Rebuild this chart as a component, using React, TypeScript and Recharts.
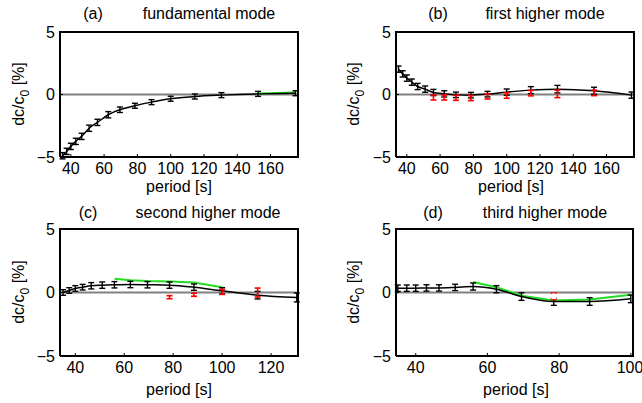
import React from "react";
import { ComposedChart, Line, XAxis, YAxis, ErrorBar, ReferenceLine, CartesianGrid } from "recharts";

// periods [s]
const periodsA = [35, 37.5, 40, 43, 46.5, 51, 56, 62.5, 69.5, 78.5, 88.5, 100, 114.5, 130.5, 152.5, 175];
const valuesA = [-4.9, -4.55, -4.15, -3.75, -3.35, -2.7, -2.23, -1.62, -1.22, -0.9, -0.61, -0.34, -0.16, -0.05, 0.05, 0.1];
const errA = [0.25, 0.25, 0.25, 0.25, 0.25, 0.25, 0.25, 0.25, 0.22, 0.2, 0.2, 0.2, 0.2, 0.2, 0.2, 0.2];
const greenPeriodsA = [152.5, 175];
const greenA = [0.08, 0.17];

const periodsB = periodsA;
const valuesB = [2.03, 1.65, 1.31, 0.99, 0.64, 0.43, 0.16, 0.05, -0.03, -0.05, 0.03, 0.19, 0.35, 0.43, 0.3, -0.05];
const errB = [0.25, 0.25, 0.25, 0.25, 0.25, 0.25, 0.25, 0.25, 0.22, 0.22, 0.22, 0.25, 0.28, 0.3, 0.28, 0.25];
const redPeriodsB = [56, 62.5, 69.5, 78.5, 88.5, 100, 114.5, 130.5, 152.5];
const redB = [-0.24, -0.24, -0.27, -0.29, -0.16, -0.08, 0.11, 0.05, 0.13];
const redErrB = [0.2, 0.2, 0.2, 0.2, 0.2, 0.22, 0.22, 0.3, 0.22];

const periodsC = [35, 37.5, 40, 43, 46.5, 51, 56, 62.5, 69.5, 78.5, 88.5, 100, 114.5, 130.5];
const valuesC = [0.0, 0.16, 0.32, 0.42, 0.53, 0.58, 0.61, 0.63, 0.61, 0.58, 0.42, 0.13, -0.21, -0.39];
const errC = [0.22, 0.22, 0.22, 0.22, 0.25, 0.25, 0.25, 0.25, 0.25, 0.25, 0.25, 0.25, 0.3, 0.35];
const greenPeriodsC = [56, 62.5, 69.5, 78.5, 88.5, 100];
const greenC = [1.08, 0.97, 0.9, 0.87, 0.79, 0.42];
const redPeriodsC = [78.5, 88.5, 100, 114.5];
const redC = [-0.37, -0.18, 0.05, 0.0];
const redErrC = [0.12, 0.12, 0.2, 0.35];

const periodsD = [35, 37.5, 40, 43, 46.5, 51, 56, 62.5, 69.5, 78.5, 88.5, 100];
const valuesD = [0.34, 0.34, 0.34, 0.36, 0.36, 0.4, 0.47, 0.26, -0.32, -0.71, -0.71, -0.5];
const errD = [0.25, 0.25, 0.25, 0.25, 0.25, 0.25, 0.28, 0.28, 0.3, 0.3, 0.3, 0.3];
const greenPeriodsD = [56, 62.5, 69.5, 78.5, 88.5, 100];
const greenD = [0.82, 0.42, -0.26, -0.63, -0.55, -0.18];
const redPeriodsD = [78.5];
const redD = [-0.3];
const redErrD = [0.25];

const yTicks = [-5, 0, 5];

const zip = (xs: number[], ys: number[], es?: number[]) =>
  xs.map((p, i) => ({ p, v: ys[i], e: es ? es[i] : 0 }));

const FONT = '"Liberation Sans", Arial, Helvetica, sans-serif';

type PanelProps = {
  left: number;
  top: number;
  plotW: number;
  plotH: number;
  rightMargin: number;
  domain: [number, number];
  xTicks: number[];
  black: { p: number; v: number; e: number }[];
  green?: { p: number; v: number; e: number }[];
  red?: { p: number; v: number; e: number }[];
};

const Panel = ({ left, top, plotW, plotH, rightMargin, domain, xTicks, black, green, red }: PanelProps) => {
  const width = 60 + plotW + rightMargin;
  const height = 200;
  const tickStyle = { fontSize: 16, fill: "#000", fontFamily: FONT };
  const frame = { stroke: "#000", strokeWidth: 2 };
  return (
    <div style={{ position: "absolute", left, top, width, height }}>
      <ComposedChart width={width} height={height} margin={{ top: 32, right: rightMargin, bottom: 0, left: 10 }}>
        {/* top and right edges of the box */}
        <CartesianGrid
          horizontalValues={[5]}
          verticalValues={[domain[1]]}
          horizontalPoints={[32]}
          verticalPoints={[60 + plotW]}
          stroke="#000"
          strokeWidth={2}
          strokeOpacity={1}
        />
        <XAxis
          type="number"
          dataKey="p"
          domain={domain}
          ticks={xTicks}
          allowDataOverflow
          height={height - 32 - plotH}
          tickSize={-3}
          tickMargin={9}
          tick={tickStyle}
          axisLine={frame}
          tickLine={{ stroke: "#000" }}
        />
        <YAxis
          type="number"
          domain={[-5, 5]}
          ticks={yTicks}
          allowDataOverflow
          width={50}
          tickSize={-3}
          tickMargin={8}
          tick={tickStyle}
          tickFormatter={(v: number) => (v < 0 ? "\u2212" + Math.abs(v) : String(v))}
          axisLine={frame}
          tickLine={{ stroke: "#000" }}
        />
        <ReferenceLine y={0} stroke="#808080" strokeWidth={2} />
        {green && (
          <Line
            data={green}
            dataKey="v"
            type="linear"
            stroke="#22dd22"
            strokeWidth={2}
            dot={false}
            activeDot={false}
            isAnimationActive={false}
          />
        )}
        <Line
          data={black}
          dataKey="v"
          type="monotone"
          stroke="#000"
          strokeWidth={1.5}
          dot={false}
          activeDot={false}
          isAnimationActive={false}
        >
          <ErrorBar dataKey="e" direction="y" width={3} stroke="#000" strokeWidth={1.4} />
        </Line>
        {red && (
          <Line
            data={red}
            dataKey="v"
            type="linear"
            stroke="none"
            strokeWidth={0}
            dot={false}
            activeDot={false}
            isAnimationActive={false}
          >
            <ErrorBar dataKey="e" direction="y" width={3} stroke="#ff0000" strokeWidth={1.6} />
          </Line>
        )}
      </ComposedChart>
      <div
        style={{
          position: "absolute",
          left: 59,
          top: 31,
          width: plotW + 2,
          height: plotH + 2,
          boxSizing: "border-box",
          borderTop: "2px solid #000",
          borderRight: "2px solid #000",
          pointerEvents: "none",
          zIndex: 5,
        }}
      />
    </div>
  );
};

const Txt = ({ x, y, children, rotate }: { x: number; y: number; children: React.ReactNode; rotate?: boolean }) => (
  <div
    style={{
      position: "absolute",
      left: x,
      top: y,
      transform: `translate(-50%, -50%)${rotate ? " rotate(-90deg)" : ""}`,
      fontFamily: FONT,
      fontSize: 16,
      whiteSpace: "nowrap",
      lineHeight: 1,
      color: "#000",
    }}
  >
    {children}
  </div>
);

const YLabel = () => (
  <span>
    dc/c<sub style={{ fontSize: 12 }}>0</sub> [%]
  </span>
);

const App = () => {
  return (
    <div style={{ position: "absolute", left: 0, top: 0, width: 642, height: 403, background: "#fff", overflow: "hidden" }}>
      <Panel
        left={0}
        top={0}
        plotW={238}
        plotH={125}
        rightMargin={20}
        domain={[33.5, 176.5]}
        xTicks={[40, 60, 80, 100, 120, 140, 160]}
        black={zip(periodsA, valuesA, errA)}
        green={zip(greenPeriodsA, greenA)}
      />
      <Panel
        left={336}
        top={0}
        plotW={238}
        plotH={125}
        rightMargin={8}
        domain={[33.5, 176.5]}
        xTicks={[40, 60, 80, 100, 120, 140, 160]}
        black={zip(periodsB, valuesB, errB)}
        red={zip(redPeriodsB, redB, redErrB)}
      />
      <Panel
        left={0}
        top={197}
        plotW={238}
        plotH={127}
        rightMargin={20}
        domain={[33.75, 131]}
        xTicks={[40, 60, 80, 100, 120]}
        black={zip(periodsC, valuesC, errC)}
        green={zip(greenPeriodsC, greenC)}
        red={zip(redPeriodsC, redC, redErrC)}
      />
      <Panel
        left={336}
        top={197}
        plotW={237}
        plotH={127}
        rightMargin={9}
        domain={[34.5, 100.6]}
        xTicks={[40, 60, 80, 100]}
        black={zip(periodsD, valuesD, errD)}
        green={zip(greenPeriodsD, greenD)}
        red={zip(redPeriodsD, redD, redErrD)}
      />

      <Txt x={93} y={14}>(a)</Txt>
      <Txt x={209} y={14}>fundamental mode</Txt>
      <Txt x={438} y={14}>(b)</Txt>
      <Txt x={545} y={14}>first higher mode</Txt>
      <Txt x={88} y={213}>(c)</Txt>
      <Txt x={208} y={213}>second higher mode</Txt>
      <Txt x={433} y={213}>(d)</Txt>
      <Txt x={545} y={213}>third higher mode</Txt>

      <Txt x={21} y={94} rotate><YLabel /></Txt>
      <Txt x={356} y={94} rotate><YLabel /></Txt>
      <Txt x={21} y={292} rotate><YLabel /></Txt>
      <Txt x={356} y={292} rotate><YLabel /></Txt>

      <Txt x={179} y={187}>period [s]</Txt>
      <Txt x={511} y={187}>period [s]</Txt>
      <Txt x={179} y={390}>period [s]</Txt>
      <Txt x={516} y={390}>period [s]</Txt>
    </div>
  );
};

export default App;
